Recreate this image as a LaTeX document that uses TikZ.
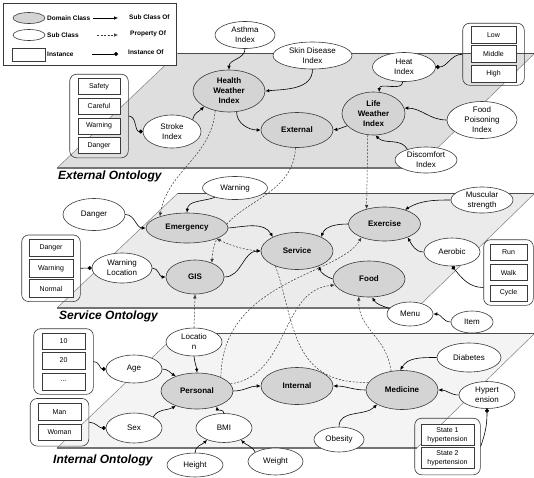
\documentclass[tikz,border=0pt]{standalone}
\usepackage{fontspec}
\setmainfont{Liberation Sans}
\usetikzlibrary{shapes.geometric,arrows.meta,fit}

\pgfdeclarelayer{planes}
\pgfdeclarelayer{links}
\pgfsetlayers{planes,links,main}

\definecolor{extplane}{HTML}{DEDEDE}
\definecolor{srvplane}{HTML}{EBEBEB}
\definecolor{intplane}{HTML}{F4F4F4}
\definecolor{domfill}{HTML}{D4D4D4}
\definecolor{edge}{HTML}{3A3A3A}

\tikzset{
  sz/.style 2 args={minimum width=#1pt,minimum height=#2pt},
  dom/.style={ellipse, draw=edge, line width=0.6pt, fill=domfill, inner sep=0pt,
    font=\bfseries\fontsize{8}{10}\selectfont, align=center},
  sub/.style={ellipse, draw=edge, line width=0.6pt, fill=white, inner sep=0pt,
    font=\fontsize{8}{10}\selectfont, align=center},
  inst/.style={rectangle, draw=edge, line width=0.6pt, fill=white, inner sep=0pt,
    font=\fontsize{7}{9}\selectfont, align=center},
  grp/.style={rectangle, rounded corners=7pt, draw=edge, line width=0.6pt},
  subof/.style={->, line width=0.6pt},
  propof/.style={->, line width=0.5pt, draw=edge, dash pattern=on 2pt off 1.5pt},
  instof/.style={-{Circle[length=4pt]}, line width=0.6pt},
  layertitle/.style={font=\bfseries\itshape\fontsize{12}{14}\selectfont, inner sep=0pt, anchor=base west},
  legtext/.style={font=\bfseries\fontsize{6.5}{8}\selectfont, inner sep=0pt, anchor=west},
  planeside/.style={draw=gray, line width=0.5pt},
  planetop/.style={draw=black!70, line width=0.7pt},
  planebot/.style={draw=black!55, line width=1.3pt},
}

\begin{document}
\begin{tikzpicture}[x=1pt, y=1pt, >={Latex[length=4pt,width=3.5pt]}]
\useasboundingbox (0,0) rectangle (534,-477);

% ---------- the three ontology planes ----------
\begin{pgfonlayer}{planes}
\foreach \yb/\col in {168/extplane,308/srvplane,448/intplane}{
  \fill[\col] (57,-\yb) -- (417,-\yb) -- (535,-\yb+115) -- (178,-\yb+115) -- cycle;
  \draw[planeside] (57,-\yb) -- (178,-\yb+115) (417,-\yb) -- (535,-\yb+115);
  \draw[planetop] (178,-\yb+115) -- (535,-\yb+115);
  \draw[planebot] (57,-\yb) -- (417,-\yb);
}
\end{pgfonlayer}

\node[layertitle] (tExt) at (58,-179) {External Ontology};
\node[layertitle] (tSrv) at (59,-319) {Service Ontology};
\node[layertitle] (tInt) at (53,-463) {Internal Ontology};

% ---------- legend ----------
\node[draw=edge, fill=white, line width=0.6pt, inner sep=0pt, anchor=north west,
      minimum width=173pt, minimum height=62pt] (legend) at (3,-3) {};
\node[dom, sz={32}{11}] (lgdom) at (29,-18) {};
\node[legtext] (lgdomt) at (47,-18) {Domain Class};
\node[sub, sz={32}{11}] (lgsub) at (29,-35) {};
\node[legtext] (lgsubt) at (47,-35) {Sub Class};
\node[inst, sz={33}{13}] (lginst) at (28.5,-54.5) {};
\node[legtext] (lginstt) at (47,-54.5) {Instance};
\coordinate (la1) at (93,-18);  \coordinate (lb1) at (118,-18);
\coordinate (la2) at (97,-35);  \coordinate (lb2) at (118,-35);
\coordinate (la3) at (92,-54);  \coordinate (lb3) at (118,-54);
\draw[subof] (la1) -- (lb1);
\draw[propof] (la2) -- (lb2);
\draw[instof] (la3) -- (lb3);
\node[legtext] (lgso) at (129,-17) {Sub Class Of};
\node[legtext] (lgpo) at (130,-34) {Property Of};
\node[legtext] (lgio) at (128,-52) {Instance Of};

% ---------- External ontology ----------
\node[dom, sz={72}{42}] (hwi) at (229,-91) {Health\\Weather\\Index};
\node[dom, sz={72}{35}] (ext) at (297,-130) {External};
\node[dom, sz={63}{43}] (lwi) at (373.5,-113.5) {Life\\Weather\\Index};
\node[sub, sz={60}{27}] (asthma) at (245,-35) {Asthma\\Index};
\node[sub, sz={79}{27}] (skin) at (312.5,-55.5) {Skin Disease\\Index};
\node[sub, sz={63}{29}] (heat) at (404,-67) {Heat\\Index};
\node[sub, sz={70}{37}] (fpi) at (482,-120) {Food\\Poisoning\\Index};
\node[sub, sz={62}{26}] (disc) at (426,-160) {Discomfort\\Index};
\node[sub, sz={58}{33}] (stroke) at (172,-131.5) {Stroke\\Index};

\node[inst, sz={42}{16}] (i-safety) at (99,-86.5) {Safety};
\node[inst, sz={42}{16}] (i-careful) at (99,-106) {Careful};
\node[inst, sz={42}{16}] (i-warning1) at (99,-126) {Warning};
\node[inst, sz={42}{16}] (i-danger1) at (99,-145.5) {Danger};
\node[grp, inner xsep=8pt, inner ysep=4pt, fit=(i-safety)(i-danger1)] (g1) {};

\node[inst, sz={45}{17}] (i-low) at (493.5,-35) {Low};
\node[inst, sz={45}{17}] (i-middle) at (493.5,-53.5) {Middle};
\node[inst, sz={45}{17}] (i-high) at (493.5,-73.5) {High};
\node[grp, inner xsep=8pt, inner ysep=3pt, fit=(i-low)(i-high)] (g2) {};

% ---------- Service ontology ----------
\node[dom, sz={82}{30}] (emerg) at (187,-228) {Emergency};
\node[sub, sz={62}{32}] (dangers) at (94,-214.5) {Danger};
\node[sub, sz={65}{23}] (warns) at (235,-188) {Warning};
\node[sub, sz={60}{30}] (warnloc) at (122,-268) {Warning\\Location};
\node[dom, sz={58}{34}] (gis) at (195,-277) {GIS};
\node[dom, sz={72}{37}] (service) at (297,-251) {Service};
\node[dom, sz={72}{34}] (exercise) at (384.5,-224) {Exercise};
\node[dom, sz={72}{36}] (food) at (369,-279) {Food};
\node[sub, sz={62}{26}] (muscular) at (482,-200) {Muscular\\strength};
\node[sub, sz={56}{28}] (aerobic) at (452,-252) {Aerobic};
\node[sub, sz={46}{24}] (menu) at (410,-314) {Menu};
\node[sub, sz={42}{22}] (item) at (472,-322) {Item};

\node[inst, sz={44}{17.5}] (i-danger2) at (51,-248) {Danger};
\node[inst, sz={44}{17.5}] (i-warning2) at (51,-268.5) {Warning};
\node[inst, sz={44}{17.5}] (i-normal) at (51,-288.5) {Normal};
\node[grp, inner xsep=7pt, inner ysep=4pt, fit=(i-danger2)(i-normal)] (g3) {};

\node[inst, sz={37}{16}] (i-run) at (508.5,-252) {Run};
\node[inst, sz={37}{16}] (i-walk) at (508.5,-272.5) {Walk};
\node[inst, sz={37}{16}] (i-cycle) at (508.5,-293) {Cycle};
\node[grp, inner xsep=6pt, inner ysep=4pt, fit=(i-run)(i-cycle)] (g4) {};

% ---------- Internal ontology ----------
\node[sub, sz={56}{28}] (location) at (194,-342) {Locatio\\n};
\node[sub, sz={56}{28}] (age) at (134,-369) {Age};
\node[sub, sz={56}{30}] (sex) at (134,-428) {Sex};
\node[dom, sz={72}{36}] (personal) at (197,-391) {Personal};
\node[dom, sz={72}{37}] (internal) at (297,-386) {Internal};
\node[dom, sz={72}{39}] (medicine) at (402,-390) {Medicine};
\node[sub, sz={56}{29}] (bmi) at (224,-428) {BMI};
\node[sub, sz={56}{24}] (height) at (195,-465) {Height};
\node[sub, sz={55}{27}] (weight) at (275.5,-461.5) {Weight};
\node[sub, sz={64}{29}] (diabetes) at (469,-357.5) {Diabetes};
\node[sub, sz={56}{27}] (hyper) at (487,-395) {Hypert\\ension};
\node[sub, sz={50}{25}] (obesity) at (339,-439.5) {Obesity};

\node[inst, sz={43}{16}] (i-10) at (63.5,-341) {10};
\node[inst, sz={43}{17}] (i-20) at (63.5,-360.5) {20};
\node[inst, sz={43}{17}] (i-more) at (63.5,-381.5) {...};
\node[grp, inner xsep=8pt, inner ysep=4pt, fit=(i-10)(i-more)] (g5) {};

\node[inst, sz={43}{16.5}] (i-man) at (59.5,-412) {Man};
\node[inst, sz={43}{16.5}] (i-woman) at (59.5,-432.5) {Woman};
\node[grp, inner xsep=7.5pt, inner ysep=5pt, fit=(i-man)(i-woman)] (g6) {};

\node[inst, sz={53}{21}] (i-state1) at (447.5,-435) {State 1\\hypertension};
\node[inst, sz={53}{21}] (i-state2) at (447.5,-458) {State 2\\hypertension};
\node[grp, inner xsep=6pt, inner ysep=6pt, fit=(i-state1)(i-state2)] (g7) {};

% ---------- sub class links ----------
\draw[subof] (asthma.south) to[out=-90,in=90] (hwi.north);
\draw[subof] (skin.south) to[out=-90,in=5] (hwi.east);
\draw[subof] (stroke.30) to[out=80,in=225] (hwi.212);
\draw[subof] (hwi.290) to[out=-90,in=180] (ext.west);
\draw[subof] (lwi.205) to[out=-160,in=10] (ext.east);
\draw[subof] (heat.265) to[out=-90,in=90] (lwi.75);
\draw[subof] (fpi.west) to[out=180,in=0] (lwi.10);
\draw[subof] (disc.150) to[out=120,in=-45] (lwi.-85);

\draw[subof] (dangers.east) to[out=0,in=180] (emerg.west);
\draw[subof] (warns.205) to[out=-160,in=85] (emerg.north);
\draw[subof] (emerg.east) to[out=5,in=120] (service.150);
\draw[subof] (gis.east) to[out=0,in=180] (service.west);
\draw[subof] (warnloc.east) to[out=0,in=180] (gis.west);
\draw[subof] (muscular.west) to[out=180,in=30] (exercise.35);
\draw[subof] (aerobic.west) to[out=180,in=-60] (exercise.-30);
\draw[subof] (exercise.west) to[out=180,in=70] (service.30);
\draw[subof] (food.west) to[out=160,in=-70] (service.-35);
\draw[subof] (menu.165) to[out=160,in=-60] (food.-80);
\draw[subof] (item.west) to[out=180,in=0] (menu.east);

\draw[subof] (location.south) to[out=-85,in=95] (personal.north);
\draw[subof] (age.east) to[out=0,in=150] (personal.145);
\draw[subof] (sex.30) to[out=60,in=210] (personal.215);
\draw[subof] (bmi.north) to[out=90,in=-80] (personal.-38);
\draw[subof] (height.north) to[out=90,in=225] (bmi.215);
\draw[subof] (weight.155) to[out=120,in=-45] (bmi.-35);
\draw[subof] (personal.east) to[out=0,in=180] (internal.west);
\draw[subof] (medicine.west) to[out=180,in=0] (internal.east);
\draw[subof] (diabetes.west) to[out=180,in=60] (medicine.95);
\draw[subof] (hyper.west) to[out=180,in=0] (medicine.east);
\draw[subof] (obesity.north) to[out=90,in=-135] (medicine.210);

% ---------- instance links ----------
\draw[instof] (g1.east) to[out=0,in=180] (stroke.west);
\draw[instof] (g2.west) to[out=180,in=0] (heat.east);
\draw[instof] (g3.east) -- (warnloc.west);
\draw[instof] ([yshift=-15pt]g4.west) to[out=180,in=-50] (aerobic.south);
\draw[instof] (g5.east) to[out=0,in=180] (age.west);
\draw[instof] (g6.east) to[out=0,in=180] (sex.west);
\draw[instof] (g7.east) to[out=70,in=-90] (hyper.south);

% ---------- property links (behind the nodes) ----------
\begin{pgfonlayer}{links}
\draw[propof] (hwi.235) to[out=-95,in=80] (emerg.157);
\draw[propof] (ext.-95) .. controls (293,-205) and (215,-200) .. (gis.40);
\draw[propof] (lwi.-105) -- (exercise.140);
\draw[propof] (location.north) -- (gis.south);
\draw[propof] (personal.30) .. controls (222,-280) and (340,-275) .. (exercise.210);
\draw[propof] (personal.12) .. controls (290,-375) and (280,-290) .. (food.190);
\draw[propof,-] (service.215) .. controls (295,-320) and (290,-385) .. (medicine.167);
\draw[propof,<->] (emerg.-20) to[out=-25,in=175] (service.west);
\draw[propof] (medicine.120) .. controls (386,-335) and (358,-330) .. (food.240);
\end{pgfonlayer}
\end{tikzpicture}
\end{document}
